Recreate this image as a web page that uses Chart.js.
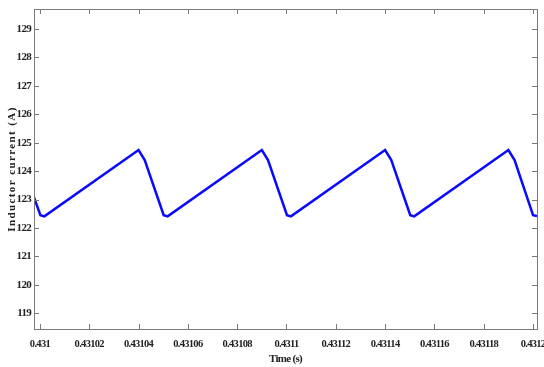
<!DOCTYPE html>
<html>
<head>
<meta charset="utf-8">
<script src="https://cdn.jsdelivr.net/npm/chart.js@4.4.1/dist/chart.umd.min.js"></script>
<style>
  html, body { margin: 0; padding: 0; background: #fff; }
  #chart { display: block; }
</style>
</head>
<body>
<canvas id="chart" width="544" height="367"></canvas>
<script>
// Inductor current waveform (time in s, current in A)
const timeS = [
  0.4309976, 0.4310002, 0.4310018,
  0.43104, 0.4310425, 0.4310502, 0.4310518,
  0.43109, 0.4310925, 0.4311002, 0.4311018,
  0.43114, 0.4311425, 0.4311502, 0.4311518,
  0.43119, 0.4311925, 0.4312000, 0.4312016
];
const currentA = [
  123.08, 122.45, 122.41,
  124.74, 124.39, 122.45, 122.41,
  124.74, 124.39, 122.45, 122.41,
  124.74, 124.39, 122.45, 122.41,
  124.74, 124.39, 122.45, 122.42
];

const xTickValues = [0.431, 0.43102, 0.43104, 0.43106, 0.43108, 0.4311, 0.43112, 0.43114, 0.43116, 0.43118, 0.4312];
const xTickLabels = ["0.431", "0.43102", "0.43104", "0.43106", "0.43108", "0.4311", "0.43112", "0.43114", "0.43116", "0.43118", "0.4312"];
const yTickValues = [119, 120, 121, 122, 123, 124, 125, 126, 127, 128, 129];

const xRange = [0.4309976, 0.4312016];
const yRange = [118.45, 129.7];

const serif = "'Liberation Serif', 'Times New Roman', serif";
const tickFont = { family: serif, size: 11, weight: "bold" };
const xTickFont = { family: serif, size: 10.5, weight: "bold" };
const frameColor = "#7a7a7a";

// box around the plot with inward ticks on all four sides, plus spaced y title
const framePlugin = {
  id: "frame",
  beforeDraw(chart) {
    // the reference labels are set tighter than the plain font
    chart.ctx.letterSpacing = "-0.7px";
  },
  afterDraw(chart) {
    const { ctx, chartArea: a, scales } = chart;
    const len = 5;
    ctx.save();
    ctx.strokeStyle = frameColor;
    ctx.lineWidth = 1;
    ctx.strokeRect(Math.round(a.left) + 0.5, Math.round(a.top) + 0.5,
      Math.round(a.right - a.left), Math.round(a.bottom - a.top));
    ctx.beginPath();
    xTickValues.forEach(v => {
      const px = Math.round(scales.x.getPixelForValue(v)) + 0.5;
      ctx.moveTo(px, a.bottom); ctx.lineTo(px, a.bottom - len);
      ctx.moveTo(px, a.top); ctx.lineTo(px, a.top + len);
    });
    yTickValues.forEach(v => {
      const py = Math.round(scales.y.getPixelForValue(v)) + 0.5;
      ctx.moveTo(a.left, py); ctx.lineTo(a.left + len, py);
      ctx.moveTo(a.right, py); ctx.lineTo(a.right - len, py);
    });
    ctx.stroke();

    ctx.translate(12, (a.top + a.bottom) / 2);
    ctx.rotate(-Math.PI / 2);
    ctx.font = "bold 11px 'Liberation Serif', serif";
    ctx.letterSpacing = "1.4px";
    ctx.fillStyle = "#222";
    ctx.textAlign = "left";
    ctx.textBaseline = "middle";
    const label = "Inductor current (A)";
    const w = ctx.measureText(label).width;
    ctx.fillText(label, -w / 2, 0);
    ctx.restore();
    ctx.letterSpacing = "0px";
  }
};

new Chart(document.getElementById("chart"), {
  type: "line",
  data: {
    datasets: [{
      data: timeS.map((t, i) => ({ x: t, y: currentA[i] })),
      borderColor: "#0a0aff",
      borderWidth: 2.5,
      pointRadius: 0,
      tension: 0,
      fill: false
    }]
  },
  options: {
    responsive: false,
    animation: false,
    layout: { padding: { left: 0, right: 7, top: 9, bottom: 0 } },
    plugins: { legend: { display: false }, tooltip: { enabled: false } },
    scales: {
      x: {
        type: "linear",
        min: xRange[0],
        max: xRange[1],
        grid: { display: false, drawTicks: false },
        border: { display: false },
        afterBuildTicks: s => { s.ticks = xTickValues.map(v => ({ value: v })); },
        afterFit: s => { s.height = 38; s.paddingLeft = 0; s.paddingRight = 0; },
        ticks: {
          font: xTickFont,
          color: "#222",
          padding: 9,
          maxRotation: 0,
          autoSkip: false,
          callback: (v, i) => xTickLabels[i]
        },
        title: {
          display: true,
          text: "Time (s)",
          color: "#222",
          font: tickFont,
          padding: { top: 0, bottom: 1 }
        }
      },
      y: {
        min: yRange[0],
        max: yRange[1],
        grid: { display: false, drawTicks: false },
        border: { display: false },
        afterBuildTicks: s => { s.ticks = yTickValues.map(v => ({ value: v })); },
        afterFit: s => { s.width = 34; s.paddingTop = 0; s.paddingBottom = 0; },
        ticks: {
          font: tickFont,
          color: "#222",
          padding: 3,
          autoSkip: false,
          callback: v => String(v)
        }
      }
    }
  },
  plugins: [framePlugin]
});
</script>
</body>
</html>
